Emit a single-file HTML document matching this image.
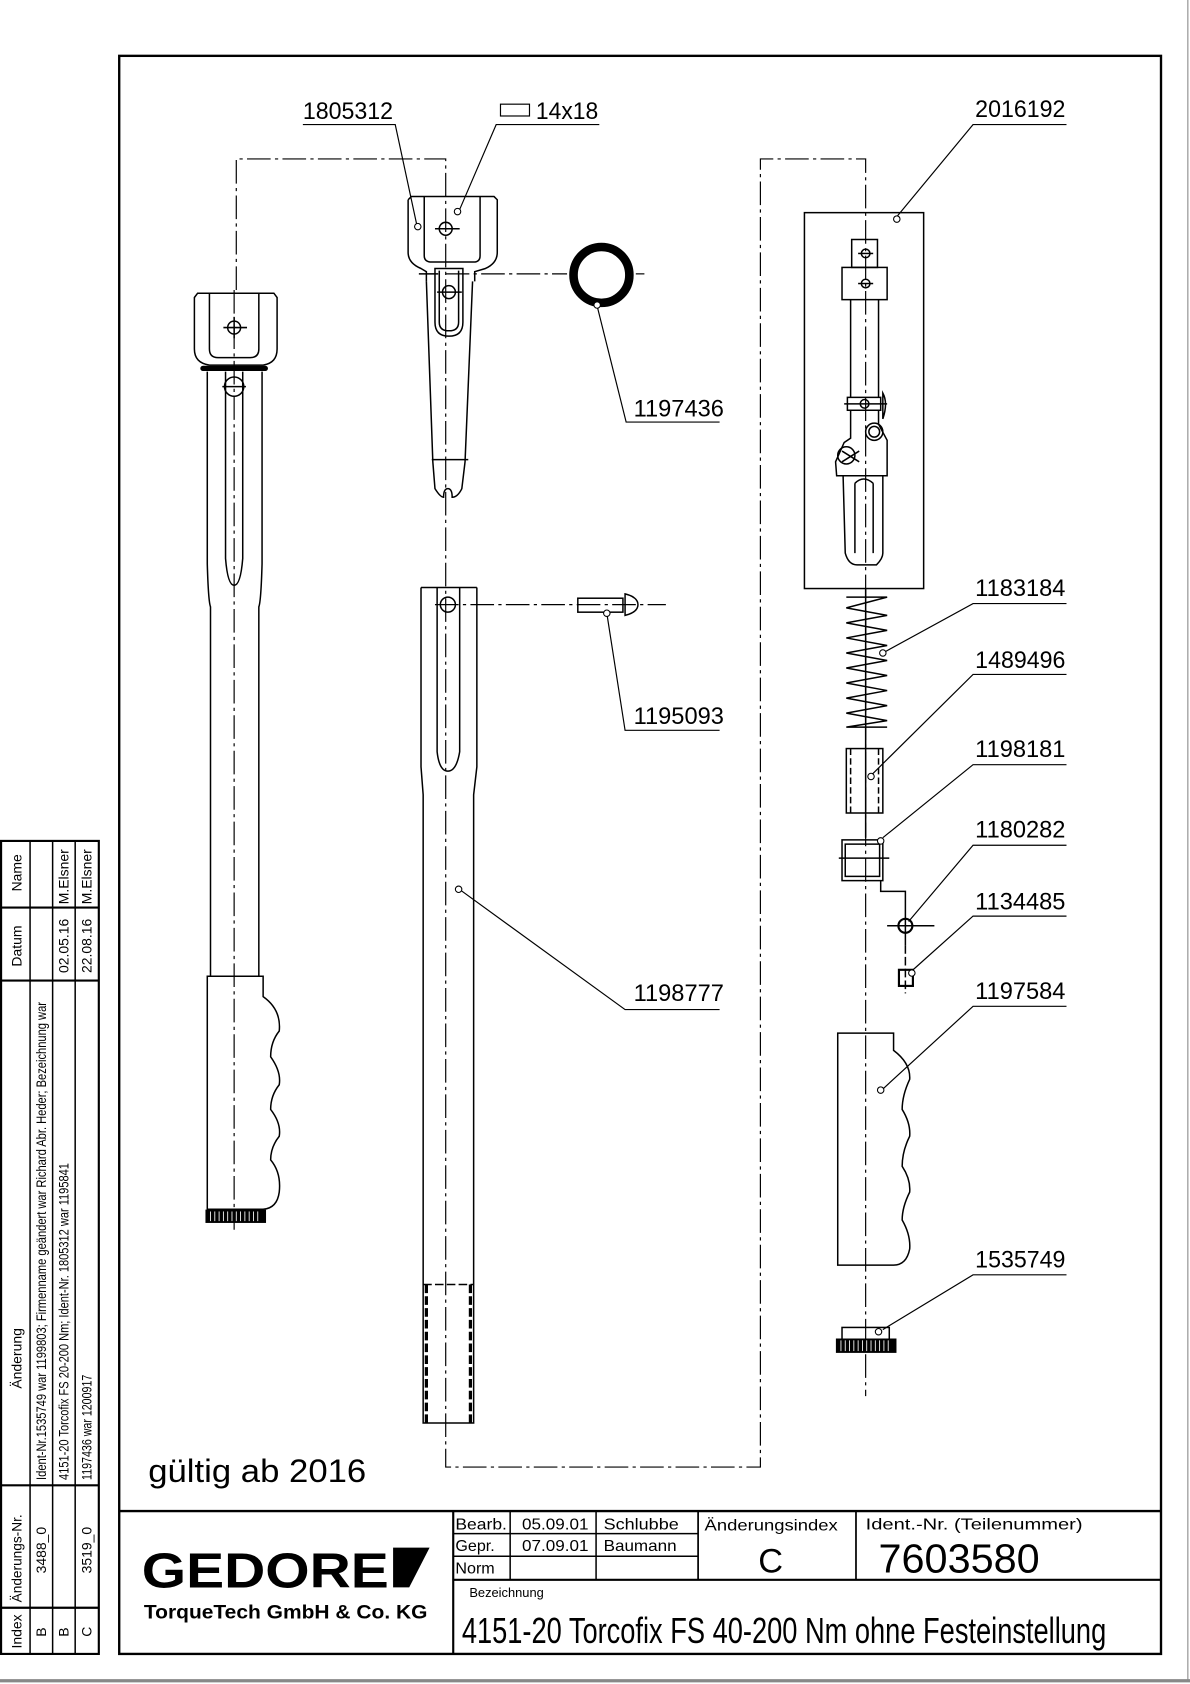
<!DOCTYPE html>
<html><head><meta charset="utf-8"><style>
html,body{margin:0;padding:0;background:#fff}
svg{display:block}
text{font-family:"Liberation Sans Narrow","Liberation Sans","DejaVu Sans Condensed",sans-serif;fill:#000}
</style></head><body>
<svg width="1190" height="1684" viewBox="0 0 1108 1568" preserveAspectRatio="none" xmlns="http://www.w3.org/2000/svg">
<g fill="none" stroke="#000" stroke-width="1.4">
<line x1="0" y1="1565" x2="1108" y2="1565" stroke="#888" stroke-width="3"/>
<line x1="1106" y1="0" x2="1106" y2="1565" stroke="#888" stroke-width="1"/>
<rect x="111" y="52" width="970" height="1488" stroke-width="2.2"/>
<line x1="111" y1="1407" x2="1081" y2="1407" stroke-width="2.2"/>
<line x1="422" y1="1407" x2="422" y2="1540" stroke-width="2"/>
<line x1="422" y1="1471" x2="1081" y2="1471" stroke-width="2"/>
<line x1="422" y1="1428" x2="650" y2="1428"/>
<line x1="422" y1="1449" x2="650" y2="1449"/>
<line x1="475" y1="1407" x2="475" y2="1471"/>
<line x1="555" y1="1407" x2="555" y2="1471"/>
<line x1="650" y1="1407" x2="650" y2="1471" stroke-width="1.6"/>
<line x1="797" y1="1407" x2="797" y2="1471" stroke-width="1.6"/>
<rect x="1" y="783" width="91" height="757" stroke-width="2"/>
<line x1="28" y1="783" x2="28" y2="1540"/>
<line x1="49" y1="783" x2="49" y2="1540"/>
<line x1="70" y1="783" x2="70" y2="1540"/>
<line x1="1" y1="845" x2="92" y2="845" stroke-width="2"/>
<line x1="1" y1="913" x2="92" y2="913" stroke-width="2"/>
<line x1="1" y1="1383" x2="92" y2="1383" stroke-width="2"/>
<line x1="1" y1="1497" x2="92" y2="1497" stroke-width="2"/>

<g stroke-dasharray="22,4,3,4" stroke-width="1.1">
<polyline points="220,270 220,148 415,148 415,1366 708,1366 708,148 806,148 806,1300"/>
<line x1="415" y1="255" x2="528" y2="255"/>
<line x1="592" y1="255" x2="600" y2="255"/>
<line x1="405" y1="563" x2="620" y2="563"/>
<line x1="218" y1="270" x2="218" y2="1145"/>
</g>

<path d="M181,277 L184,273 L255,273 L258,277 L258,325 Q258,338 245,340 L195,340 Q181,338 181,325 Z"/>
<path d="M195,273 L195,325 Q195,333 203,333 L233,333 Q241,333 241,325 L241,273"/>
<circle cx="218" cy="305" r="6"/>
<line x1="208" y1="305" x2="230" y2="305"/><line x1="218" y1="295" x2="218" y2="315"/>
<line x1="189" y1="343" x2="247" y2="343" stroke-width="5" stroke-linecap="round"/>
<path d="M193,346 L193,525 Q194,560 196,565 L196,909 M244,346 L244,525 Q243,560 241,565 L241,909"/>
<path d="M210,346 L210,520 Q212,545 218,545 Q224,545 226,520 L226,346"/>
<circle cx="218" cy="360" r="9"/><line x1="207" y1="360" x2="229" y2="360"/>
<path d="M193,909 L245,909 L245,928 Q262,940 260,960 Q252,970 252,984 Q262,998 260,1010 Q252,1020 252,1033 Q262,1046 260,1058 Q252,1068 252,1080 Q262,1092 260,1110 Q258,1125 245,1126 L193,1126 Z"/>
<rect x="192" y="1127" width="55" height="11" fill="#000"/>
<g stroke="#fff" stroke-width="0.8"><line x1="196" y1="1128" x2="196" y2="1137"/><line x1="200" y1="1128" x2="200" y2="1137"/><line x1="204" y1="1128" x2="204" y2="1137"/><line x1="208" y1="1128" x2="208" y2="1137"/><line x1="212" y1="1128" x2="212" y2="1137"/><line x1="216" y1="1128" x2="216" y2="1137"/><line x1="220" y1="1128" x2="220" y2="1137"/><line x1="224" y1="1128" x2="224" y2="1137"/><line x1="228" y1="1128" x2="228" y2="1137"/><line x1="232" y1="1128" x2="232" y2="1137"/><line x1="236" y1="1128" x2="236" y2="1137"/><line x1="240" y1="1128" x2="240" y2="1137"/></g>

<path d="M380,186 L383,183 L460,183 L463,186 L463,235 Q463,245 452,250 L442,253 L442,262 M380,186 L380,235 Q380,245 392,250 L397,253 L397,262"/>
<path d="M395,183 L395,238 Q395,244 402,244 L441,244 Q447,244 447,238 L447,183"/>
<circle cx="415" cy="213" r="6"/><line x1="405" y1="213" x2="428" y2="213"/>
<path d="M397,262 L403,430 L405,455 Q410,463 413,463 Q413,455 417,455 Q421,455 421,463 Q426,463 430,455 L433,430 L440,262"/>
<line x1="402" y1="428" x2="436" y2="428"/>
<path d="M405,250 L405,300 Q405,313 418,313 Q431,313 431,300 L431,250 Z"/>
<path d="M409,252 L409,300 Q409,308 418,308 Q427,308 427,300 L427,252"/>
<circle cx="418" cy="272" r="6"/><line x1="407" y1="272" x2="430" y2="272"/>
<line x1="390" y1="255" x2="408" y2="255"/>

<circle cx="560" cy="256" r="26" stroke-width="8"/>

<path d="M392,547 L444,547 M392,547 L392,714 L394,740 L394,1325 L441,1325 L441,740 L444,714 L444,547"/>
<path d="M407,547 L407,700 Q409,718 417,718 Q425,718 428,700 L428,547"/>
<circle cx="417" cy="563" r="7"/>
<line x1="394" y1="1196" x2="441" y2="1196" stroke-dasharray="8,3"/>
<line x1="397" y1="1196" x2="397" y2="1325" stroke-width="3" stroke-dasharray="8,3"/>
<line x1="438" y1="1196" x2="438" y2="1325" stroke-width="3" stroke-dasharray="8,3"/>

<rect x="538" y="557" width="42" height="13"/>
<path d="M582,553 Q594,556 594,563 Q594,570 582,573 Z"/>

<rect x="749" y="198" width="111" height="350"/>
<rect x="793" y="223" width="24" height="26"/>
<rect x="784" y="249" width="42" height="30"/>
<circle cx="806" cy="236" r="4"/><line x1="799" y1="236" x2="813" y2="236"/>
<circle cx="806" cy="264" r="4"/><line x1="799" y1="264" x2="813" y2="264"/>
<path d="M792,279 L792,370 M818,279 L818,370"/>
<rect x="789" y="370" width="31" height="12"/>
<path d="M822,366 Q827,375 822,390 Z"/>
<circle cx="805" cy="376" r="4"/><line x1="786" y1="376" x2="826" y2="376"/>
<path d="M792,382 L792,408 L786,412 L778,430 L779,443 L826,443 L826,410 L818,395 L818,382"/>
<circle cx="814" cy="402" r="8"/><circle cx="814" cy="402" r="5"/>
<circle cx="788" cy="424" r="8"/>
<line x1="784" y1="420" x2="800" y2="430"/><line x1="784" y1="430" x2="800" y2="420"/>
<path d="M785,443 L787,515 Q790,526 798,526 L816,526 Q822,520 822,515 L822,443"/>
<path d="M796,450 L796,515 M813,450 L813,515 M796,450 Q804,442 813,450"/>

<line x1="806" y1="548" x2="806" y2="780"/>
<polyline points="788,556 826,556 788,566 826,573 788,580 826,587 788,594 826,601 788,608 826,615 788,622 826,629 788,636 826,643 788,650 826,657 788,664 826,671 788,677 826,677"/>
<rect x="788" y="697" width="34" height="60"/>
<line x1="792" y1="697" x2="792" y2="757" stroke-dasharray="6,3"/><line x1="818" y1="697" x2="818" y2="757" stroke-dasharray="6,3"/>
<path d="M784,782 L822,782 L822,820 L784,820 Z"/>
<path d="M787,786 L819,786 L819,816 L787,816 Z"/>
<line x1="781" y1="799" x2="828" y2="799"/>
<polyline points="820,820 820,830 843,830 843,880"/>
<circle cx="843" cy="862" r="6.5" stroke-width="2"/>
<line x1="826" y1="862" x2="870" y2="862"/>
<rect x="837" y="903" width="13" height="15" stroke-width="2"/>
<line x1="843" y1="880" x2="843" y2="925" stroke-dasharray="8,3"/>
<path d="M780,962 L832,962 L832,978 Q848,990 847,1005 Q840,1020 840,1033 Q848,1046 847,1058 Q840,1072 840,1086 Q848,1098 847,1110 Q840,1124 840,1136 Q848,1150 847,1163 Q844,1178 832,1178 L780,1178 Z"/>
<rect x="784" y="1236" width="44" height="11"/>
<rect x="779" y="1247" width="55" height="12" fill="#000"/>
<g stroke="#fff" stroke-width="0.8"><line x1="783" y1="1248" x2="783" y2="1258"/><line x1="787" y1="1248" x2="787" y2="1258"/><line x1="791" y1="1248" x2="791" y2="1258"/><line x1="795" y1="1248" x2="795" y2="1258"/><line x1="799" y1="1248" x2="799" y2="1258"/><line x1="803" y1="1248" x2="803" y2="1258"/><line x1="807" y1="1248" x2="807" y2="1258"/><line x1="811" y1="1248" x2="811" y2="1258"/><line x1="815" y1="1248" x2="815" y2="1258"/><line x1="819" y1="1248" x2="819" y2="1258"/><line x1="823" y1="1248" x2="823" y2="1258"/><line x1="827" y1="1248" x2="827" y2="1258"/></g>

<g stroke-width="1.1">
<polyline points="282,116 368,116 388,209"/>
<polyline points="558,116 462,116 428,195"/>
<rect x="466" y="97" width="27" height="11"/>
<polyline points="670,393 583,393 556,285"/>
<polyline points="670,680 582,680 565,571"/>
<polyline points="670,940 582,940 429,829"/>
<polyline points="993,116 906,116 834,203"/>
<polyline points="993,562 906,562 822,608"/>
<polyline points="993,628 906,628 811,722"/>
<polyline points="993,712 906,712 822,780"/>
<polyline points="993,787 906,787 846,858"/>
<polyline points="993,853 906,853 849,904"/>
<polyline points="993,937 906,937 822,1014"/>
<polyline points="993,1187 906,1187 822,1238"/>
</g>
<g fill="#fff" stroke-width="1">
<circle cx="389" cy="211" r="3"/><circle cx="426" cy="197" r="3"/><circle cx="835" cy="204" r="3"/>
<circle cx="556" cy="284" r="3"/><circle cx="565" cy="571" r="3"/><circle cx="427" cy="828" r="3"/>
<circle cx="822" cy="608" r="3"/><circle cx="811" cy="723" r="3"/><circle cx="820" cy="783" r="3"/>
<circle cx="849" cy="906" r="3"/><circle cx="820" cy="1015" r="3"/><circle cx="818" cy="1240" r="3"/>
</g>
</g>

<g font-size="22">
<text x="282" y="111" textLength="84" lengthAdjust="spacingAndGlyphs">1805312</text>
<text x="499" y="111" textLength="58" lengthAdjust="spacingAndGlyphs">14x18</text>
<text x="590" y="388" textLength="84" lengthAdjust="spacingAndGlyphs">1197436</text>
<text x="590" y="674" textLength="84" lengthAdjust="spacingAndGlyphs">1195093</text>
<text x="590" y="932" textLength="84" lengthAdjust="spacingAndGlyphs">1198777</text>
<text x="908" y="109" textLength="84" lengthAdjust="spacingAndGlyphs">2016192</text>
<text x="908" y="555" textLength="84" lengthAdjust="spacingAndGlyphs">1183184</text>
<text x="908" y="622" textLength="84" lengthAdjust="spacingAndGlyphs">1489496</text>
<text x="908" y="705" textLength="84" lengthAdjust="spacingAndGlyphs">1198181</text>
<text x="908" y="780" textLength="84" lengthAdjust="spacingAndGlyphs">1180282</text>
<text x="908" y="847" textLength="84" lengthAdjust="spacingAndGlyphs">1134485</text>
<text x="908" y="930" textLength="84" lengthAdjust="spacingAndGlyphs">1197584</text>
<text x="908" y="1180" textLength="84" lengthAdjust="spacingAndGlyphs">1535749</text>
</g>
<text x="138" y="1380" font-size="30" textLength="203" lengthAdjust="spacingAndGlyphs">gültig ab 2016</text>

<g font-size="15">
<text x="424" y="1424" textLength="48" lengthAdjust="spacingAndGlyphs">Bearb.</text><text x="486" y="1424" textLength="62" lengthAdjust="spacingAndGlyphs">05.09.01</text><text x="562" y="1424" textLength="70" lengthAdjust="spacingAndGlyphs">Schlubbe</text>
<text x="424" y="1444">Gepr.</text><text x="486" y="1444" textLength="62" lengthAdjust="spacingAndGlyphs">07.09.01</text><text x="562" y="1444" textLength="68" lengthAdjust="spacingAndGlyphs">Baumann</text>
<text x="424" y="1465">Norm</text>
<text x="656" y="1425" textLength="124" lengthAdjust="spacingAndGlyphs">Änderungsindex</text>
<text x="806" y="1424" textLength="202" lengthAdjust="spacingAndGlyphs">Ident.-Nr.  (Teilenummer)</text>
<text x="437" y="1487" font-size="12">Bezeichnung</text>
</g>
<text x="706" y="1464" font-size="32">C</text>
<text x="818" y="1464" font-size="38" textLength="150" lengthAdjust="spacingAndGlyphs">7603580</text>
<text x="430" y="1530" font-size="34" textLength="600" lengthAdjust="spacingAndGlyphs">4151-20 Torcofix FS 40-200 Nm ohne Festeinstellung</text>
<text x="132" y="1478" font-size="46" font-weight="bold" font-family="Liberation Sans" textLength="230" lengthAdjust="spacingAndGlyphs">GEDORE</text>
<polygon points="366,1441 400,1441 381,1478 366,1478" fill="#000"/>
<text x="134" y="1507" font-size="18" font-weight="bold" textLength="264" lengthAdjust="spacingAndGlyphs">TorqueTech GmbH &amp; Co. KG</text>

<g font-size="13">
<text transform="translate(20,1535) rotate(-90)">Index</text>
<text transform="translate(20,1492) rotate(-90)" textLength="82" lengthAdjust="spacingAndGlyphs">Änderungs-Nr.</text>
<text transform="translate(20,1293) rotate(-90)">Änderung</text>
<text transform="translate(20,900) rotate(-90)">Datum</text>
<text transform="translate(20,830) rotate(-90)">Name</text>
<text transform="translate(43,1524) rotate(-90)">B</text>
<text transform="translate(64,1524) rotate(-90)">B</text>
<text transform="translate(85,1524) rotate(-90)">C</text>
<text transform="translate(43,1465) rotate(-90)">3488_0</text>
<text transform="translate(85,1465) rotate(-90)">3519_0</text>
<text transform="translate(43,1378) rotate(-90)" textLength="445" lengthAdjust="spacingAndGlyphs">Ident-Nr.1535749 war 1199803; Firmenname geändert war Richard Abr. Heder; Bezeichnung war</text>
<text transform="translate(64,1378) rotate(-90)" textLength="295" lengthAdjust="spacingAndGlyphs">4151-20 Torcofix FS 20-200 Nm; Ident-Nr. 1805312 war 1195841</text>
<text transform="translate(85,1378) rotate(-90)" textLength="98" lengthAdjust="spacingAndGlyphs">1197436 war 1200917</text>
<text transform="translate(64,906) rotate(-90)">02.05.16</text>
<text transform="translate(85,906) rotate(-90)">22.08.16</text>
<text transform="translate(64,842) rotate(-90)">M.Elsner</text>
<text transform="translate(85,842) rotate(-90)">M.Elsner</text>
</g>
</svg>
</body></html>
